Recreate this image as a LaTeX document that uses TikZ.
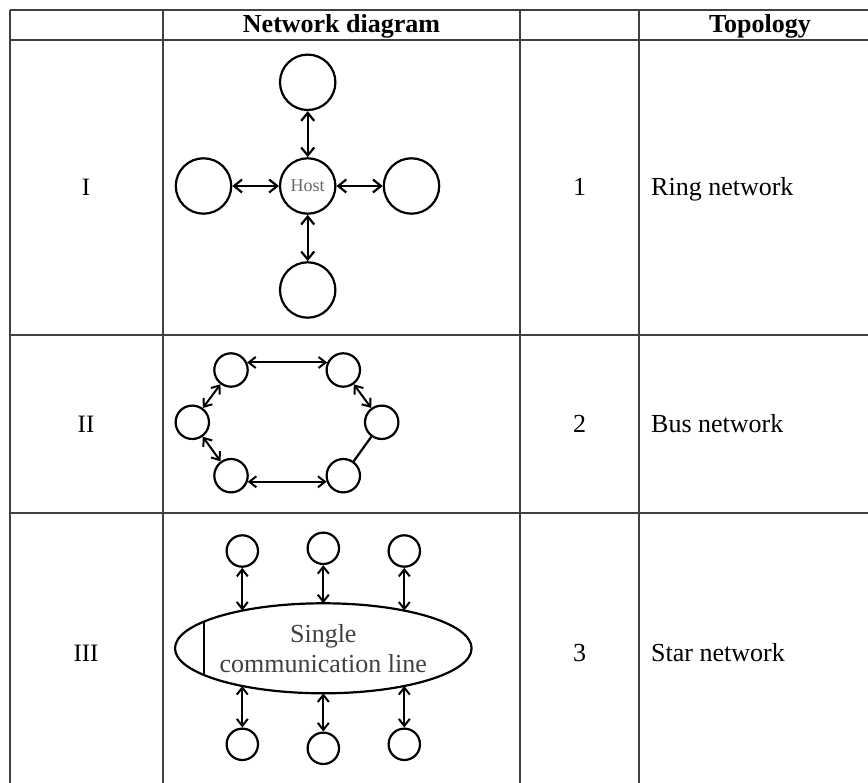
\documentclass[tikz,border=0pt]{standalone}
\usepackage{fontspec}
\setmainfont{Liberation Serif}
\usetikzlibrary{arrows.meta,shapes.geometric}
\begin{document}
\begin{tikzpicture}[x=1pt,y=-1pt,
  grid/.style={line width=2pt,black!75},
  hdr/.style={font=\fontsize{26}{30}\selectfont\bfseries},
  body/.style={font=\fontsize{26}{30}\selectfont,inner sep=0pt},
  roman/.style={font=\fontsize{25}{29}\selectfont,inner sep=0pt},
  bigc/.style={circle,draw,line width=2.2pt,minimum size=55.4pt,inner sep=0pt},
  midc/.style={circle,draw,line width=2.2pt,minimum size=33.4pt,inner sep=0pt},
  smallc/.style={circle,draw,line width=2.2pt,minimum size=31.4pt,inner sep=0pt},
  link/.style={line width=2.2pt},
  dbl/.style={line width=2.2pt,{Straight Barb[length=8pt,width=13pt]}-{Straight Barb[length=8pt,width=13pt]}},
  dbls/.style={line width=2pt,{Straight Barb[length=7pt,width=11pt]}-{Straight Barb[length=7pt,width=11pt]}}
]
\useasboundingbox (0,0) rectangle (868,783);
\clip (0,0) rectangle (868,783);
\fill[white] (0,0) rectangle (868,783);

% table grid
\foreach \yy in {10,40,335,513}
  \draw[grid] (9.5,\yy) -- (881,\yy);
\foreach \xx in {9.5,163,520,639,881}
  \draw[grid] (\xx,10) -- (\xx,791);

% header
\node[hdr] (h1) at (341.5,26) {Network diagram};
\node[hdr] (h2) at (760,26) {Topology};

% row labels
\node[roman,anchor=base] (r1) at (86,196) {I};
\node[roman,anchor=base] (r2) at (86,433) {II};
\node[roman,anchor=base] (r3) at (86,661) {III};

\node[body,anchor=base] (n1) at (579.5,196) {1};
\node[body,anchor=base] (n2) at (579.5,433) {2};
\node[body,anchor=base] (n3) at (579.5,661) {3};

\node[body,anchor=base west] (t1) at (651,196) {Ring network};
\node[body,anchor=base west] (t2) at (651,433) {Bus network};
\node[body,anchor=base west] (t3) at (651,661) {Star network};

% diagram I : star
\node[bigc,font=\fontsize{18}{20}\selectfont,text=black!60] (host) at (307.7,186) {Host};
\node[bigc] (sTop) at (307.7,82.3) {};
\node[bigc] (sLeft) at (203.5,186) {};
\node[bigc] (sRight) at (411.5,186) {};
\node[bigc] (sBot) at (307.7,290) {};
\draw[dbl] (sTop) -- (host);
\draw[dbl] (sLeft) -- (host);
\draw[dbl] (host) -- (sRight);
\draw[dbl] (host) -- (sBot);

% diagram II : ring
\node[midc] (rTL) at (231,370) {};
\node[midc] (rTR) at (343.3,370) {};
\node[midc] (rL) at (192.3,422.3) {};
\node[midc] (rR) at (381.7,422.3) {};
\node[midc] (rBL) at (231,475.7) {};
\node[midc] (rBR) at (343.3,475.7) {};
\draw[dbls] (rTL.25) -- (rTR.155);
\draw[dbls] (rTL) -- (rL);
\draw[dbls] (rL) -- (rBL);
\draw[dbls] (rBL.-20) -- (rBR.200);
\draw[dbls] (rTR) -- (rR);
\draw[link] (rR) -- (rBR);

% diagram III : bus
\node[ellipse,draw,line width=2.2pt,minimum width=296.6pt,minimum height=90pt,inner sep=0pt,outer sep=0pt,
      align=center,text=black!75,font=\fontsize{26}{30}\selectfont] (bus) at (323.3,648.3) {Single\\communication line};
\coordinate (vTop) at (204.3,621.45);
\coordinate (vBot) at (204.3,675.15);
\draw[line width=2pt] (vTop) -- (vBot);
\node[smallc] (bt1) at (242.3,551) {};
\node[smallc] (bt2) at (323.3,548.3) {};
\node[smallc] (bt3) at (404.3,551) {};
\node[smallc] (bb1) at (242.3,744.3) {};
\node[smallc] (bb2) at (323.3,748.3) {};
\node[smallc] (bb3) at (404.3,744.3) {};
\coordinate (e1) at (242.3,610.6);
\coordinate (e3) at (404.3,610.6);
\coordinate (f1) at (242.3,686.0);
\coordinate (f3) at (404.3,686.0);
\draw[dbls] (bt1.south) -- (e1);
\draw[dbls] (bt2.south) -- (bus.north);
\draw[dbls] (bt3.south) -- (e3);
\draw[dbls] (bb1.north) -- (f1);
\draw[dbls] (bb2.north) -- (bus.south);
\draw[dbls] (bb3.north) -- (f3);
\end{tikzpicture}
\end{document}
